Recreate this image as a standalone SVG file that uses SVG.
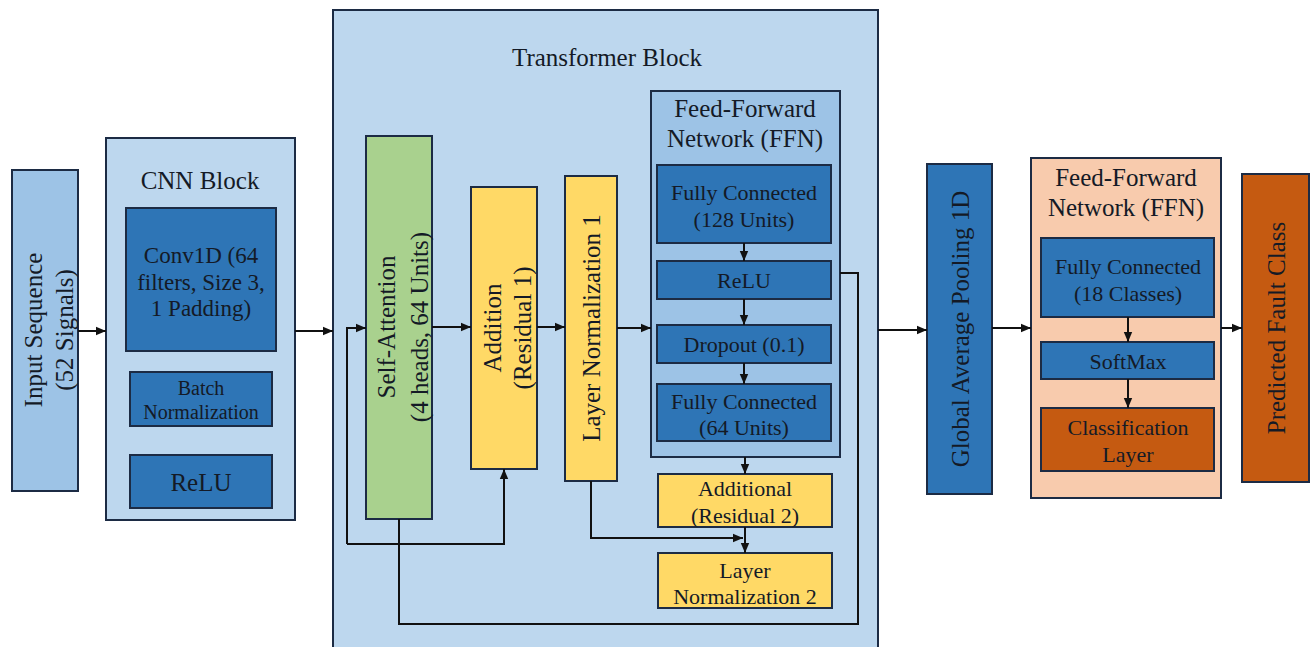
<svg xmlns="http://www.w3.org/2000/svg" width="1312" height="647" viewBox="0 0 1312 647" font-family="'Liberation Serif', 'DejaVu Serif', serif">
<defs>
<marker id="ah" markerUnits="userSpaceOnUse" markerWidth="10" markerHeight="10" viewBox="0 0 10 10" refX="10" refY="5" orient="auto">
<path d="M0,0.8 L10,5 L0,9.2 Z" fill="#111"/>
</marker>
</defs>
<style>
.box{stroke:#1c2b44;stroke-width:2}
.lt{fill:#bdd7ee}
.md{fill:#9dc3e6}
.dk{fill:#2e75b6}
.gr{fill:#a9d18e}
.yl{fill:#ffd966}
.pc{fill:#f8cbad}
.or{fill:#c55a11}
text{font-family:'Liberation Serif','DejaVu Serif',serif;fill:#141a26;text-anchor:middle;dominant-baseline:central}
.t25{font-size:25px}
.t23{font-size:23px}
.t22{font-size:22px}
.t20{font-size:20px}
.c{fill:none;stroke:#111;stroke-width:2}
.a{marker-end:url(#ah)}
</style>
<rect width="1312" height="647" fill="#ffffff"/>

<g id="input">
<rect class="box md" x="12" y="170" width="66" height="321"/>
<text class="t25" transform="translate(33,330) rotate(-90)">Input Sequence</text>
<text class="t25" transform="translate(64,330) rotate(-90)">(52 Signals)</text>
</g>

<g id="cnn-block">
<rect class="box lt" x="106" y="138" width="189" height="382"/>
<text class="t25" x="200" y="180">CNN Block</text>
</g>
<g id="conv1d">
<rect class="box dk" x="126" y="208" width="150" height="143"/>
<text class="t23" x="201" y="255">Conv1D (64</text>
<text class="t23" x="201" y="282">filters, Size 3,</text>
<text class="t23" x="201" y="308">1 Padding)</text>
</g>
<g id="batchnorm">
<rect class="box dk" x="130" y="372" width="142" height="54"/>
<text class="t20" x="201" y="388">Batch</text>
<text class="t20" x="201" y="412">Normalization</text>
</g>
<g id="relu-cnn">
<rect class="box dk" x="130" y="455" width="142" height="53"/>
<text class="t25" x="201" y="482">ReLU</text>
</g>

<g id="transformer-block">
<rect class="box lt" x="333" y="10" width="545" height="650"/>
<text class="t25" x="607" y="57">Transformer Block</text>
</g>
<g id="self-attention">
<rect class="box gr" x="366" y="136" width="66" height="383"/>
<text class="t25" transform="translate(386,327) rotate(-90)">Self-Attention</text>
<text class="t25" transform="translate(419,327) rotate(-90)">(4 heads, 64 Units)</text>
</g>
<g id="addition">
<rect class="box yl" x="471" y="187" width="66" height="282"/>
<text class="t25" transform="translate(492,328) rotate(-90)">Addition</text>
<text class="t25" transform="translate(522,328) rotate(-90)">(Residual 1)</text>
</g>
<g id="layernorm1">
<rect class="box yl" x="565" y="176" width="52" height="305"/>
<text class="t25" transform="translate(591,328) rotate(-90)">Layer Normalization 1</text>
</g>
<g id="ffn-inner">
<rect class="box md" x="651" y="91" width="189" height="366"/>
<text class="t25" x="745" y="108">Feed-Forward</text>
<text class="t25" x="745" y="138">Network (FFN)</text>
</g>
<g id="fc128">
<rect class="box dk" x="657" y="165" width="174" height="78"/>
<text class="t22" x="744" y="192">Fully Connected</text>
<text class="t22" x="744" y="219">(128 Units)</text>
</g>
<g id="relu-ffn">
<rect class="box dk" x="657" y="261" width="174" height="38"/>
<text class="t22" x="744" y="280">ReLU</text>
</g>
<g id="dropout">
<rect class="box dk" x="657" y="325" width="174" height="38"/>
<text class="t22" x="744" y="344">Dropout (0.1)</text>
</g>
<g id="fc64">
<rect class="box dk" x="657" y="384" width="174" height="57"/>
<text class="t22" x="744" y="401">Fully Connected</text>
<text class="t22" x="744" y="427">(64 Units)</text>
</g>
<g id="additional">
<rect class="box yl" x="658" y="474" width="174" height="53"/>
<text class="t22" x="745" y="488">Additional</text>
<text class="t22" x="745" y="515">(Residual 2)</text>
</g>
<g id="layernorm2">
<rect class="box yl" x="658" y="553" width="174" height="55"/>
<text class="t22" x="745" y="570">Layer</text>
<text class="t22" x="745" y="596">Normalization 2</text>
</g>

<g id="gap">
<rect class="box dk" x="927" y="164" width="65" height="330"/>
<text class="t25" transform="translate(960,329) rotate(-90)">Global Average Pooling 1D</text>
</g>
<g id="ffn-outer">
<rect class="box pc" x="1031" y="158" width="190" height="340"/>
<text class="t25" x="1126" y="177">Feed-Forward</text>
<text class="t25" x="1126" y="207">Network (FFN)</text>
</g>
<g id="fc18">
<rect class="box dk" x="1041" y="238" width="173" height="79"/>
<text class="t22" x="1128" y="266">Fully Connected</text>
<text class="t22" x="1128" y="293">(18 Classes)</text>
</g>
<g id="softmax">
<rect class="box dk" x="1041" y="342" width="173" height="37"/>
<text class="t22" x="1128" y="361">SoftMax</text>
</g>
<g id="classification">
<rect class="box or" x="1041" y="408" width="173" height="63"/>
<text class="t22" x="1128" y="427">Classification</text>
<text class="t22" x="1128" y="454">Layer</text>
</g>
<g id="predicted">
<rect class="box or" x="1242" y="174" width="67" height="308"/>
<text class="t25" transform="translate(1276,328) rotate(-90)">Predicted Fault Class</text>
</g>

<g id="connectors">
<path class="c a" d="M78,331 H106"/>
<path class="c a" d="M295,331 H333"/>
<path class="c a" d="M347,544 V328 H366"/>
<path class="c a" d="M347,544 H504 V469"/>
<path class="c a" d="M432,327 H471"/>
<path class="c a" d="M537,327 H565"/>
<path class="c a" d="M617,328 H651"/>
<path class="c a" d="M744,243 V261"/>
<path class="c a" d="M744,299 V325"/>
<path class="c a" d="M744,363 V384"/>
<path class="c a" d="M745,457 V474"/>
<path class="c a" d="M745,527 V553"/>
<path class="c a" d="M591,481 V538 H743"/>
<path class="c" d="M399,519 V624 H858 V273 H840"/>
<path class="c a" d="M878,330 H927"/>
<path class="c a" d="M992,328 H1031"/>
<path class="c a" d="M1128,317 V342"/>
<path class="c a" d="M1128,379 V408"/>
<path class="c a" d="M1221,328 H1242"/>
</g>
</svg>
